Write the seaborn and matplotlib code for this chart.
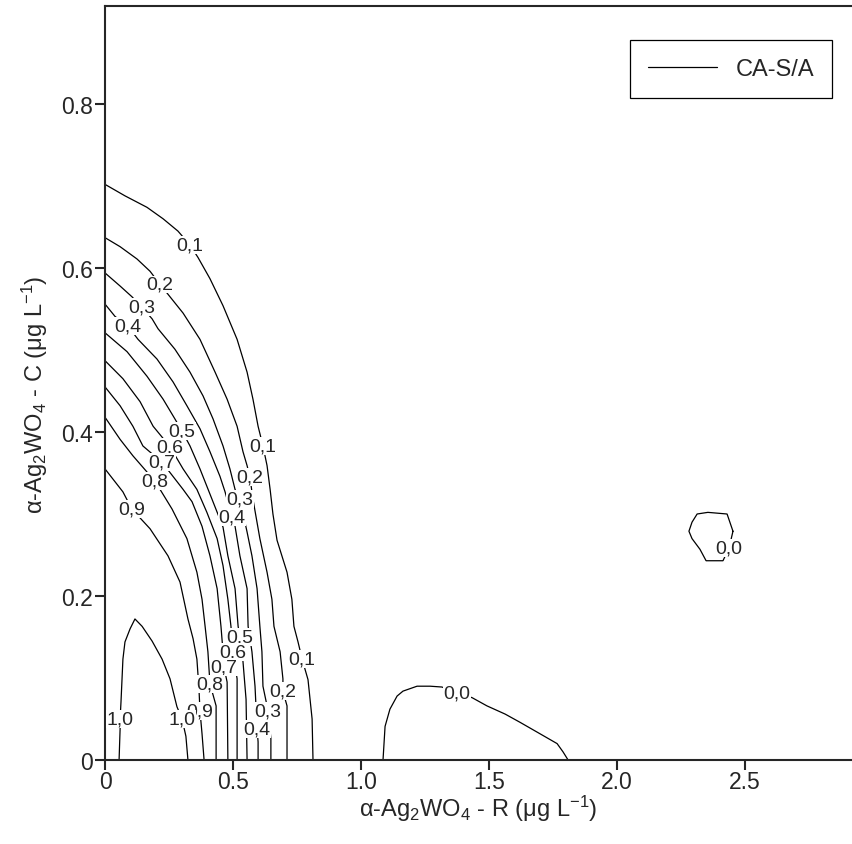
import numpy as np
import pandas as pd
import matplotlib.pyplot as plt
from matplotlib.lines import Line2D
import seaborn as sns

# contour lines (x = R, y = C, both in ug/L)
lev_00a_x = [1.086, 1.094, 1.113, 1.141, 1.164, 1.219, 1.270, 1.316, 1.375, 1.434, 1.492, 1.563, 1.621, 1.688, 1.766, 1.789, 1.809]
lev_00a_y = [0.0, 0.041, 0.062, 0.078, 0.084, 0.090, 0.090, 0.089, 0.082, 0.076, 0.066, 0.056, 0.046, 0.034, 0.020, 0.010, 0.0]
lev_00b_x = [2.453, 2.430, 2.355, 2.313, 2.293, 2.281, 2.293, 2.324, 2.348, 2.414, 2.438, 2.453]
lev_00b_y = [0.279, 0.300, 0.302, 0.300, 0.290, 0.279, 0.270, 0.257, 0.243, 0.243, 0.259, 0.279]
lev_01_x = [0, 0.078, 0.164, 0.227, 0.285, 0.332, 0.363, 0.410, 0.461, 0.516, 0.555, 0.578, 0.598, 0.617, 0.633,
            0.645, 0.656, 0.672, 0.711, 0.730, 0.738, 0.754, 0.770, 0.793, 0.809, 0.8125]
lev_01_y = [0.702, 0.688, 0.674, 0.660, 0.645, 0.628, 0.613, 0.587, 0.554, 0.513, 0.473, 0.440, 0.407, 0.383, 0.359,
            0.330, 0.300, 0.268, 0.229, 0.196, 0.163, 0.144, 0.123, 0.098, 0.050, 0.0]
lev_02_x = [0, 0.059, 0.125, 0.176, 0.215, 0.246, 0.305, 0.371, 0.430, 0.477, 0.516, 0.539, 0.555, 0.566, 0.578,
            0.605, 0.633, 0.652, 0.660, 0.684, 0.695, 0.695, 0.711, 0.711]
lev_02_y = [0.637, 0.626, 0.611, 0.596, 0.580, 0.568, 0.545, 0.513, 0.473, 0.440, 0.407, 0.376, 0.359, 0.345, 0.318,
            0.270, 0.229, 0.196, 0.163, 0.132, 0.099, 0.084, 0.066, 0.0]
lev_03_x = [0, 0.059, 0.105, 0.145, 0.184, 0.207, 0.273, 0.332, 0.383, 0.422, 0.461, 0.488, 0.508, 0.527, 0.555,
            0.574, 0.594, 0.605, 0.613, 0.617, 0.637, 0.648, 0.648]
lev_03_y = [0.594, 0.578, 0.565, 0.552, 0.538, 0.526, 0.501, 0.473, 0.444, 0.416, 0.383, 0.355, 0.330, 0.318, 0.278,
            0.249, 0.209, 0.163, 0.132, 0.090, 0.060, 0.026, 0.0]
lev_04_x = [0, 0.039, 0.090, 0.129, 0.203, 0.266, 0.320, 0.371, 0.410, 0.449, 0.469, 0.496, 0.508, 0.527, 0.555,
            0.559, 0.574, 0.586, 0.594, 0.598, 0.598]
lev_04_y = [0.556, 0.541, 0.529, 0.513, 0.489, 0.461, 0.432, 0.404, 0.376, 0.346, 0.327, 0.296, 0.285, 0.249, 0.209,
            0.163, 0.132, 0.090, 0.038, 0.022, 0.0]
lev_05_x = [0, 0.086, 0.164, 0.227, 0.273, 0.301, 0.332, 0.371, 0.418, 0.461, 0.480, 0.508, 0.520, 0.527, 0.539, 0.551, 0.555]
lev_05_y = [0.521, 0.498, 0.468, 0.440, 0.416, 0.401, 0.383, 0.355, 0.318, 0.284, 0.249, 0.209, 0.163, 0.150, 0.120, 0.074, 0.0]
lev_06_x = [0, 0.070, 0.137, 0.188, 0.254, 0.305, 0.359, 0.398, 0.438, 0.461, 0.480, 0.492, 0.500, 0.516, 0.516]
lev_06_y = [0.487, 0.465, 0.437, 0.407, 0.382, 0.355, 0.330, 0.302, 0.270, 0.237, 0.196, 0.163, 0.132, 0.099, 0.0]
lev_07_x = [0, 0.059, 0.109, 0.148, 0.223, 0.305, 0.340, 0.379, 0.410, 0.438, 0.453, 0.461, 0.465, 0.477, 0.480]
lev_07_y = [0.455, 0.432, 0.407, 0.383, 0.363, 0.330, 0.315, 0.285, 0.249, 0.209, 0.163, 0.132, 0.113, 0.095, 0.0]
lev_08_x = [0, 0.059, 0.109, 0.148, 0.195, 0.215, 0.262, 0.320, 0.359, 0.379, 0.391, 0.402, 0.410, 0.434, 0.434]
lev_08_y = [0.418, 0.391, 0.371, 0.357, 0.340, 0.330, 0.306, 0.270, 0.229, 0.196, 0.163, 0.132, 0.093, 0.066, 0.0]
lev_09_x = [0, 0.070, 0.105, 0.176, 0.246, 0.293, 0.313, 0.324, 0.344, 0.359, 0.367, 0.371, 0.379, 0.387]
lev_09_y = [0.355, 0.327, 0.306, 0.282, 0.249, 0.217, 0.188, 0.172, 0.148, 0.123, 0.087, 0.060, 0.032, 0.0]
lev_10_x = [0.055, 0.059, 0.059, 0.0625, 0.070, 0.078, 0.098, 0.117, 0.145, 0.184, 0.223, 0.254, 0.281, 0.301, 0.316, 0.324]
lev_10_y = [0.0, 0.038, 0.050, 0.071, 0.123, 0.144, 0.160, 0.172, 0.163, 0.145, 0.123, 0.099, 0.065, 0.050, 0.029, 0.0]

# (label text, x, y, vertex indices where the inline label sits)
pieces = [
    ("0,0", lev_00a_x, lev_00a_y, [8]),
    ("0,0", lev_00b_x, lev_00b_y, [10]),
    ("0,1", lev_01_x, lev_01_y, [5, 13, 22]),
    ("0,2", lev_02_x, lev_02_y, [4, 13, 21]),
    ("0,3", lev_03_x, lev_03_y, [3, 13, 20]),
    ("0,4", lev_04_x, lev_04_y, [2, 11, 18]),
    ("0,5", lev_05_x, lev_05_y, [5, 13]),
    ("0,6", lev_06_x, lev_06_y, [4, 12]),
    ("0,7", lev_07_x, lev_07_y, [4, 12]),
    ("0,8", lev_08_x, lev_08_y, [4, 12]),
    ("0,9", lev_09_x, lev_09_y, [2, 11]),
    ("1,0", lev_10_x, lev_10_y, [2, 13]),
]

x_ticks = [0, 0.5, 1.0, 1.5, 2.0, 2.5]
x_tick_labels = ['0', '0.5', '1.0', '1.5', '2.0', '2.5']
y_ticks = [0, 0.2, 0.4, 0.6, 0.8]
y_tick_labels = ['0', '0.2', '0.4', '0.6', '0.8']

sns.set_style('ticks')
plt.rcParams['font.family'] = ['Liberation Sans', 'DejaVu Sans']
plt.rcParams['mathtext.default'] = 'regular'

rows = []
for i, (lab, xs, ys, idx) in enumerate(pieces):
    for xv, yv in zip(xs, ys):
        rows.append({'piece': i, 'x': xv, 'y': yv})
df = pd.DataFrame(rows)

fig = plt.figure(figsize=(8.52, 8.45), dpi=100)
ax = fig.add_axes([105 / 852, 84 / 845, 1 - 105 / 852, 754.5 / 845])

sns.lineplot(data=df, x='x', y='y', units='piece', estimator=None, sort=False,
             color='black', lw=0.9, ax=ax, legend=False)

for lab, xs, ys, idx in pieces:
    for k in idx:
        ax.text(xs[k], ys[k], lab, ha='center', va='center', fontsize=14, zorder=5,
                bbox=dict(fc='white', ec='none', pad=0.3))

ax.set_xlim(0, 747 / 256)
ax.set_ylim(0, 754.5 / 820)
ax.set_xticks(x_ticks)
ax.set_xticklabels(x_tick_labels)
ax.set_yticks(y_ticks)
ax.set_yticklabels(y_tick_labels)
ax.tick_params(direction='out', length=7.5, width=1.5, labelsize=16.5)
ax.tick_params(axis='x', pad=-0.5)
ax.tick_params(axis='y', pad=1.5)
for s in ['left', 'bottom', 'top']:
    ax.spines[s].set_linewidth(1.5)
ax.spines['right'].set_visible(False)

ax.set_xlabel(r'α-Ag$_2$WO$_4$ - R (μg L$^{-1}$)', fontsize=17)
ax.set_ylabel(r'α-Ag$_2$WO$_4$ - C (μg L$^{-1}$)', fontsize=17)
ax.xaxis.set_label_coords(0.499, -0.043)
ax.yaxis.set_label_coords(-0.074, 0.486)

legend_elements = [Line2D([0], [0], color='black', lw=0.9, label='CA-S/A')]
leg = ax.legend(handles=legend_elements, loc='upper right', bbox_to_anchor=(0.973, 0.954),
                borderaxespad=0, fancybox=False, edgecolor='black', fontsize=17,
                handlelength=2.9, handletextpad=0.8, borderpad=0.75, framealpha=1)
leg.get_frame().set_linewidth(0.9)

fig.savefig('out.png', dpi=100)
